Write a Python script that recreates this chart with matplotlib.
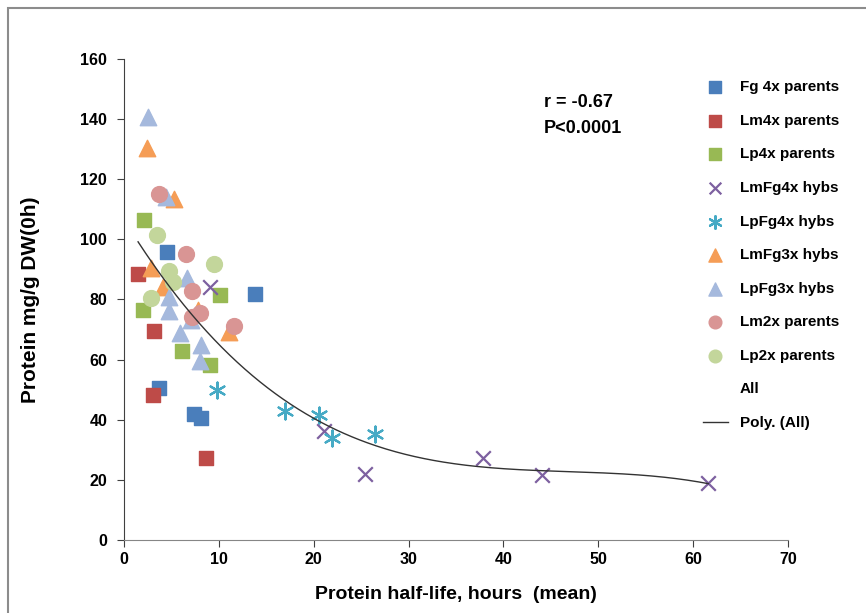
import numpy as np
import matplotlib
matplotlib.use("Agg")
from matplotlib import pyplot as plt
from matplotlib.patches import Rectangle
from matplotlib.lines import Line2D

plt.rcParams['font.family'] = ['Liberation Sans', 'DejaVu Sans']
plt.rcParams['font.weight'] = 'bold'

# data (half-life hours, protein mg/g DW)
fg4x_x = [4.6, 13.8, 3.7, 7.4, 8.1]
fg4x_y = [95.8, 81.8, 50.4, 41.9, 40.5]

lm4x_x = [1.5, 3.2, 3.1, 8.7]
lm4x_y = [88.4, 69.4, 48.3, 27.4]

lp4x_x = [2.1, 2.0, 6.1, 9.1, 10.1]
lp4x_y = [106.3, 76.6, 62.9, 58.2, 81.6]

lmfg4x_x = [9.1, 21.1, 25.4, 37.9, 44.1, 61.6]
lmfg4x_y = [84.2, 36.4, 22.0, 27.4, 21.6, 18.9]

lpfg4x_x = [9.8, 17.0, 20.6, 21.9, 26.5]
lpfg4x_y = [49.9, 43.0, 41.6, 34.0, 35.2]

lmfg3x_x = [2.4, 5.3, 2.9, 4.1, 7.8, 11.1]
lmfg3x_y = [130.3, 113.4, 90.4, 84.0, 76.5, 69.2]

lpfg3x_x = [2.5, 4.4, 6.7, 4.8, 4.8, 7.1, 5.9, 8.1, 8.0]
lpfg3x_y = [140.5, 114.2, 87.2, 80.9, 76.3, 73.2, 68.8, 64.9, 59.5]

lm2x_x = [3.7, 6.5, 7.2, 7.2, 8.0, 11.6]
lm2x_y = [115.0, 95.0, 82.9, 74.3, 75.6, 71.3]

lp2x_x = [3.5, 9.5, 4.8, 5.2, 2.9]
lp2x_y = [101.5, 91.8, 89.6, 85.8, 80.5]

fig = plt.figure(figsize=(8.66, 6.13), dpi=100)
ax = fig.add_axes([0.143, 0.119, 0.767, 0.785])

fig.patches.append(Rectangle((8 / 866, -0.05), 1.1, 1 - 8 / 613 + 0.05,
                             transform=fig.transFigure, fill=False,
                             edgecolor='#8c8c8c', linewidth=1.5))

ax.scatter(fg4x_x, fg4x_y, marker='s', s=110, color='#4a7ebb', label='Fg 4x parents', zorder=3)
ax.scatter(lm4x_x, lm4x_y, marker='s', s=110, color='#be4b48', label='Lm4x parents', zorder=3)
ax.scatter(lp4x_x, lp4x_y, marker='s', s=110, color='#98b954', label='Lp4x parents', zorder=3)
ax.scatter(lmfg4x_x, lmfg4x_y, marker='x', s=110, color='#7d60a0', linewidths=1.6, label='LmFg4x hybs', zorder=3)
ax.scatter(lpfg4x_x, lpfg4x_y, marker=(6, 2, 0), s=130, color='#46aac5', linewidths=1.6, label='LpFg4x hybs', zorder=3)
ax.scatter(lmfg3x_x, lmfg3x_y, marker='^', s=140, color='#f59d56', label='LmFg3x hybs', zorder=3)
ax.scatter(lpfg3x_x, lpfg3x_y, marker='^', s=140, color='#a5b9dd', label='LpFg3x hybs', zorder=3)
ax.scatter(lm2x_x, lm2x_y, marker='o', s=130, color='#d99594', label='Lm2x parents', zorder=3)
ax.scatter(lp2x_x, lp2x_y, marker='o', s=130, color='#c3d69b', label='Lp2x parents', zorder=3)

# polynomial trend over all points
all_x = np.array(fg4x_x + lm4x_x + lp4x_x + lmfg4x_x + lpfg4x_x + lmfg3x_x + lpfg3x_x + lm2x_x + lp2x_x)
all_y = np.array(fg4x_y + lm4x_y + lp4x_y + lmfg4x_y + lpfg4x_y + lmfg3x_y + lpfg3x_y + lm2x_y + lp2x_y)
coef = np.polyfit(all_x, all_y, 3)
xs = np.linspace(all_x.min(), all_x.max(), 300)
ax.plot(xs, np.polyval(coef, xs), color='#333333', linewidth=1, zorder=4)

ax.set_xlim(0, 70)
ax.set_ylim(0, 160)
ax.set_xticks(range(0, 71, 10))
ax.set_yticks(range(0, 161, 20))
ax.spines['top'].set_visible(False)
ax.spines['right'].set_visible(False)
ax.spines['left'].set_color('#404040')
ax.spines['bottom'].set_color('#868686')
ax.tick_params(axis='both', labelsize=11.5, direction='out', length=5, colors='#404040', labelcolor='black')
ax.tick_params(axis='y', pad=7)
ax.set_xlabel('Protein half-life, hours  (mean)', fontsize=14, fontweight='bold', labelpad=14)
ax.set_ylabel('Protein mg/g DW(0h)', fontsize=15, fontweight='bold', labelpad=29)

ax.text(44.3, 145.6, 'r = -0.67', fontsize=13, fontweight='bold', va='center')
ax.text(44.3, 136.8, 'P<0.0001', fontsize=13, fontweight='bold', va='center')

handles, labels = ax.get_legend_handles_labels()
handles.append(Line2D([], [], linestyle='none'))
labels.append('All')
handles.append(Line2D([], [], color='#333333', linewidth=1))
labels.append('Poly. (All)')
leg = ax.legend(handles, labels, loc='upper left', bbox_to_anchor=(0.863, 0.968),
                frameon=False, fontsize=11, labelspacing=1.28, handlelength=1.6,
                markerscale=0.8, borderaxespad=0)
for t in leg.get_texts():
    t.set_fontweight('bold')

fig.savefig('out.png', dpi=100)
